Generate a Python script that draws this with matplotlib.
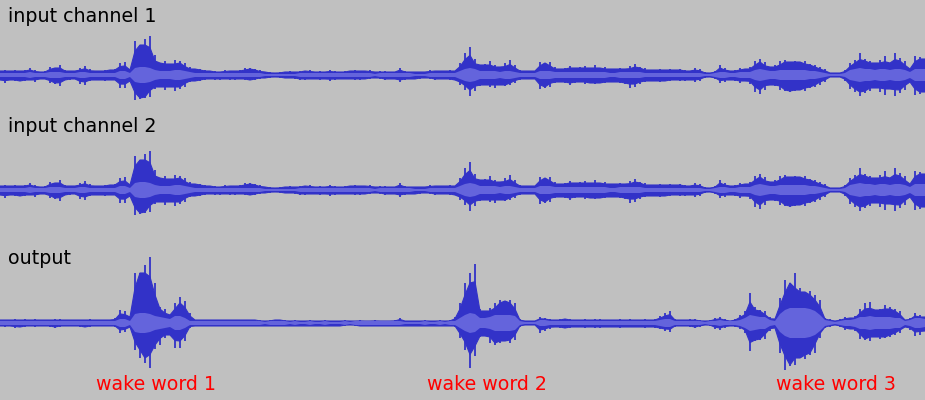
import numpy as np
import matplotlib.pyplot as plt

## waveform envelopes, sampled every 5 px along the time axis
# values = peak above centre, peak below centre, rms half width
step = 5

ch1_top = [4,5,4,5,4,5,7,5,3,4,
           8,7,10,5,4,4,7,9,6,4,
           4,5,5,6,12,13,5,34,30,36,
           39,20,12,14,11,15,14,12,8,6,
           6,5,4,4,3,5,4,4,5,7,
           7,6,5,3,3,2,3,3,4,3,
           4,4,5,3,4,3,5,4,3,4,
           4,5,4,4,5,3,4,4,3,3,
           7,4,3,3,3,3,5,4,4,4,
           5,4,12,22,28,16,10,11,14,10,
           8,12,15,10,5,4,4,4,13,12,
           13,8,6,7,9,7,8,9,7,10,
           7,8,6,6,7,6,9,11,8,7,
           5,5,6,5,6,5,6,5,4,7,
           6,3,2,4,10,7,4,5,7,6,
           8,14,16,13,8,10,14,15,13,14,
           13,14,11,10,8,6,2,2,2,5,
           12,15,22,16,14,12,15,19,12,22,
           17,14,6,19,18,16]
ch1_bot = [5,8,5,6,6,6,5,7,4,4,
           8,9,11,5,5,4,9,10,6,5,
           5,6,5,5,13,13,6,25,24,23,
           22,14,12,15,12,16,14,12,7,6,
           6,5,4,5,5,4,5,5,4,5,
           5,5,4,3,3,2,3,3,3,4,
           5,5,4,4,5,4,6,5,4,4,
           4,5,5,4,4,3,4,5,4,4,
           7,5,4,4,4,3,4,5,4,4,
           5,5,10,15,21,16,11,10,12,13,
           10,11,10,8,5,4,4,4,14,13,
           12,8,7,8,10,8,7,9,8,9,
           8,8,7,7,8,9,13,12,9,7,
           6,6,7,6,6,5,6,6,5,7,
           6,3,2,4,8,7,5,6,8,6,
           9,17,19,15,10,11,15,16,17,16,
           15,16,13,12,10,7,2,2,2,6,
           14,17,21,18,16,13,17,20,14,21,
           18,15,7,20,19,17]
ch1_rms = [2,2,2,2,2,2,3,2,2,2,
           3,3,3,2,2,2,3,3,2,2,
           2,2,2,2,4,4,2,7,8,8,
           7,5,4,4,4,5,5,4,3,2,
           2,2,2,2,2,2,2,2,2,2,
           2,2,2,1,1,1,1,1,1,1,
           2,2,2,2,2,2,2,2,2,2,
           2,2,2,2,2,1,2,2,2,2,
           2,2,2,1,1,1,2,2,2,2,
           2,2,4,6,7,6,4,4,4,4,
           3,4,4,3,2,2,2,2,4,4,
           4,3,3,3,3,3,3,3,3,3,
           3,3,2,2,3,3,3,3,3,2,
           2,2,2,2,2,2,2,2,2,2,
           2,1,1,2,3,3,2,2,3,3,
           3,5,6,5,4,4,5,5,5,5,
           5,5,4,4,3,2,1,1,1,2,
           5,6,7,6,6,5,6,6,5,6,
           6,5,3,6,6,6]

# channel 2 is the same recording as channel 1
ch2_top = ch1_top
ch2_bot = ch1_bot
ch2_rms = ch1_rms

out_top = [3,3,3,4,3,4,3,4,3,3,
           3,4,4,3,3,3,3,3,4,3,
           3,3,3,5,13,12,6,50,50,58,
           66,40,16,14,8,20,26,22,10,3,
           3,3,3,3,3,3,3,3,3,3,
           3,3,3,2,3,3,3,3,2,3,
           2,2,3,2,2,3,2,2,2,3,
           2,2,3,2,2,3,2,2,2,3,
           5,2,2,2,2,3,2,2,3,2,
           3,6,20,40,50,59,14,12,15,20,
           23,22,23,20,4,2,2,2,6,5,
           4,3,4,4,4,3,3,4,3,4,
           4,3,3,3,4,3,4,3,3,4,
           3,4,7,10,12,4,3,3,4,4,
           3,2,3,5,6,4,2,4,8,12,
           30,16,13,12,6,4,25,43,40,50,
           35,31,32,28,23,5,4,2,4,6,
           5,7,14,20,21,13,14,18,16,14,
           12,3,5,10,8,6]
out_bot = [3,4,3,5,4,4,3,4,3,3,
           4,5,4,3,3,3,4,4,4,3,
           3,3,3,4,10,9,4,27,35,40,
           45,26,22,15,12,25,25,18,5,3,
           3,3,3,3,3,3,3,3,3,3,
           3,3,3,3,3,3,3,3,3,3,
           3,3,3,3,3,3,3,3,3,3,
           2,3,3,3,3,3,3,3,3,3,
           3,3,3,3,3,3,3,3,3,3,
           3,4,15,27,45,33,14,13,20,22,
           20,18,20,17,4,2,2,2,10,8,
           6,4,5,5,5,4,4,5,4,5,
           5,4,4,4,5,4,4,4,4,5,
           4,5,6,8,9,4,3,3,4,5,
           4,2,3,6,7,5,3,4,6,10,
           28,18,17,16,8,5,30,47,43,42,
           35,36,32,30,15,5,4,2,4,7,
           6,8,16,17,18,14,16,15,14,12,
           10,4,7,13,12,8]
out_rms = [2,2,2,2,2,2,2,2,2,2,
           2,2,2,2,2,2,2,2,2,2,
           2,2,2,2,4,4,2,9,10,10,
           9,7,6,5,4,7,7,5,2,2,
           2,2,2,2,2,2,2,2,2,2,
           2,2,2,1,2,2,2,2,1,2,
           1,1,2,1,1,2,1,1,1,2,
           1,2,2,2,2,2,2,2,2,2,
           2,1,1,1,1,2,1,1,2,1,
           2,2,5,8,10,9,5,5,6,8,
           8,8,8,7,2,1,1,1,3,3,
           2,2,2,2,2,2,2,2,2,2,
           2,2,2,2,2,2,2,2,2,2,
           2,2,3,4,4,2,2,2,2,2,
           2,1,2,2,3,2,2,2,3,5,
           8,7,6,6,3,2,9,13,15,15,
           15,15,14,12,8,3,2,1,2,3,
           3,4,6,6,7,6,6,6,6,5,
           5,2,3,5,5,4]

labels = ['input channel 1', 'input channel 2', 'output']
markers = ['wake word 1', 'wake word 2', 'wake word 3']
marker_x = [156, 487, 836]

## drawing
BG = '#c0c0c0'; PEAK = '#3232c8'; RMS = '#6464dc'
centres = [75, 190, 323]
label_y = [17, 127, 259]

def body(a):
    # filled part under the peaks: min of neighbours, but not below 70% of the peak
    p = np.pad(a, 1, mode='edge')
    lo = np.minimum(np.minimum(p[:-2], p[1:-1]), p[2:])
    return np.maximum(lo, 0.7 * a)

fig = plt.figure(figsize=(9.25, 4.0), dpi=100, facecolor=BG)
ax = fig.add_axes([0, 0, 1, 1], facecolor=BG)
ax.set_xlim(0, 925)
ax.set_ylim(400, 0)
ax.axis('off')

tracks = [(ch1_top, ch1_bot, ch1_rms), (ch2_top, ch2_bot, ch2_rms), (out_top, out_bot, out_rms)]
for (top, bot, rms), c, name, ly in zip(tracks, centres, labels, label_y):
    top = np.array(top); bot = np.array(bot); rms = np.array(rms)
    x = np.arange(len(top)) * step
    ax.fill_between(x, c - body(top), c + body(bot), color=PEAK, lw=0.8, edgecolor=PEAK, zorder=1)
    ax.vlines(x, c - top, c + bot, color=PEAK, lw=1.3, zorder=2)
    ax.fill_between(x, c - rms, c + rms, color=RMS, lw=0, zorder=3)
    ax.text(8, ly, name, fontsize=13.7, color='black', va='center', ha='left')

for m, mx in zip(markers, marker_x):
    ax.text(mx, 385, m, fontsize=13.7, color='red', va='center', ha='center')

fig.savefig('out.png', dpi=100, facecolor=BG)
